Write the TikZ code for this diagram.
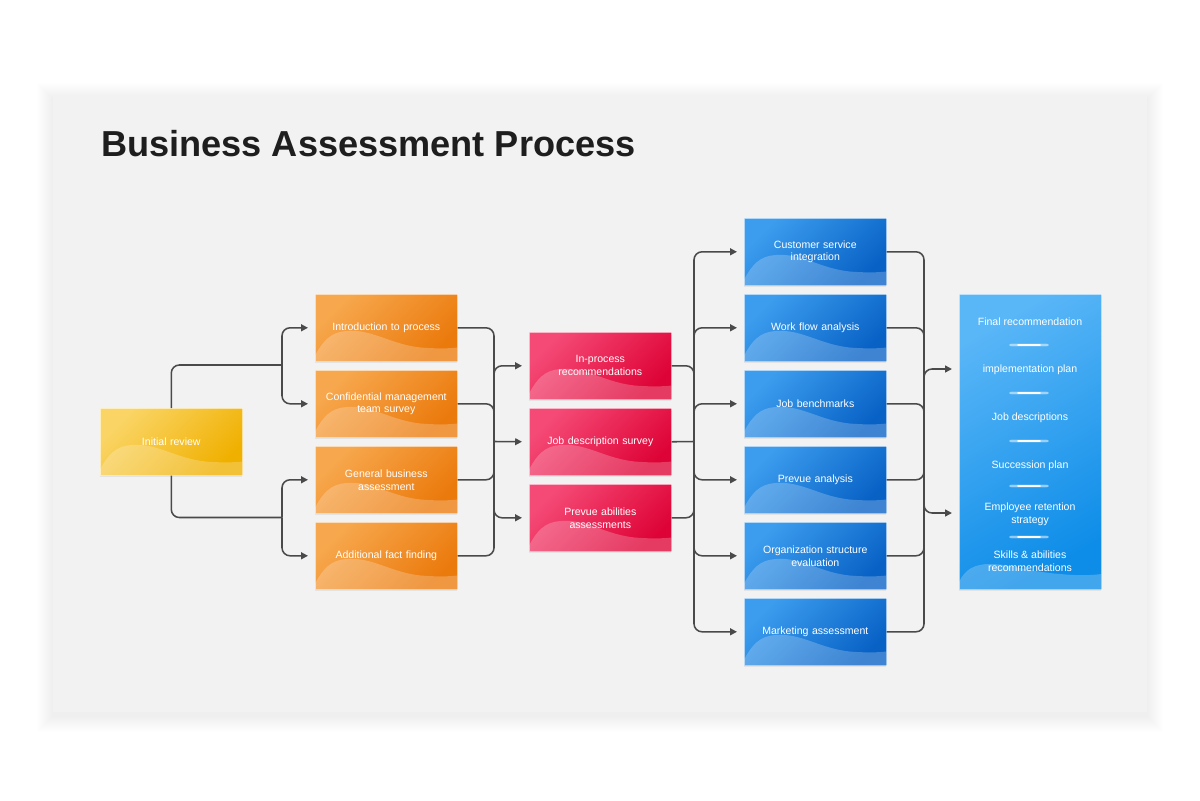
\documentclass[tikz,border=0pt]{standalone}
\usepackage{fontspec}
\setmainfont{Liberation Sans}
\usetikzlibrary{arrows.meta,shadows}
\definecolor{panel}{HTML}{F2F2F2}
\definecolor{yL}{HTML}{FAD566}\definecolor{yD}{HTML}{F0B000}
\definecolor{oL}{HTML}{F7A84E}\definecolor{oD}{HTML}{EB7A0C}
\definecolor{rL}{HTML}{F54A76}\definecolor{rD}{HTML}{DE0336}
\definecolor{bL}{HTML}{3C9DEE}\definecolor{bD}{HTML}{0862C6}
\definecolor{fL}{HTML}{59B6F7}\definecolor{fD}{HTML}{0E8DE8}
\definecolor{lineC}{HTML}{4A4A4A}
\definecolor{ttl}{HTML}{1E1E1E}
\tikzset{
  bx/.style={minimum width=3.55cm, minimum height=1.675cm, text width=3.3cm,
    align=center, text=white, font=\fontsize{7.5}{9.2}\selectfont,
    draw=white, draw opacity=0.6, line width=0.4pt, inner sep=0pt, anchor=north west,
    drop shadow={shadow xshift=0pt,shadow yshift=-1.2pt,opacity=0.13}},
  ybox/.style={bx, top color=yL, bottom color=yD, shading angle=45},
  obox/.style={bx, top color=oL, bottom color=oD, shading angle=45},
  rbox/.style={bx, top color=rL, bottom color=rD, shading angle=45},
  bbox/.style={bx, top color=bL, bottom color=bD, shading angle=45},
  fbox/.style={bx, minimum height=7.375cm, top color=fL, bottom color=fD, shading angle=30},
  ftext/.style={text=white, font=\fontsize{7.5}{9.2}\selectfont, align=center, inner sep=0pt},
  conn/.style={draw=lineC, line width=1.1pt, rounded corners=0.2cm},
  arr/.style={conn, -{Triangle[length=4.8pt,width=4.8pt]}, shorten >=5pt},
  wavefill/.style={fill=white, fill opacity=0.22},
  sep/.style={white, line width=1.1pt, line cap=round}
}
\newcommand\wavebox[3]{% left, top, height
  \fill[wavefill] (#1,#2+#3) -- (#1,#2+0.92*#3)
    .. controls (#1+0.08*142,#2+0.6*#3) and (#1+0.15*142,#2+0.55*#3) .. (#1+0.26*142,#2+0.55*#3)
    .. controls (#1+0.42*142,#2+0.55*#3) and (#1+0.55*142,#2+0.76*#3) .. (#1+0.75*142,#2+0.8*#3)
    .. controls (#1+0.88*142,#2+0.82*#3) and (#1+0.95*142,#2+0.81*#3) .. (#1+142,#2+0.8*#3)
    -- (#1+142,#2+#3) -- cycle;}
\newcommand\mkbox[5]{% name, style, left, top, text
  \node[#2] (#1) at (#3,#4) {#5};
  \wavebox{#3}{#4}{67}}
\begin{document}
\begin{tikzpicture}[x=0.025cm,y=-0.025cm]
\useasboundingbox (0,0) rectangle (1200,800);
\fill[white] (0,0) rectangle (1200,800);
% panel shadow (soft)
\foreach \i in {1,...,16}
  \fill[black, opacity=0.0035] (53-\i,95-\i+4) rectangle (1147+\i,712+\i+4);
\fill[panel] (53,95) rectangle (1147,712);
% title
\node[anchor=base west, inner sep=0pt, text=ttl, font=\fontsize{25.7}{30}\selectfont\bfseries] (title) at (101,157) {Business Assessment Process};
% boxes
\mkbox{ir}{ybox}{100}{408}{Initial review}
\mkbox{intro}{obox}{315}{294}{Introduction to process}
\mkbox{conf}{obox}{315}{370}{Confidential management\\team survey}
\mkbox{gen}{obox}{315}{446}{General business\\assessment}
\mkbox{add}{obox}{315}{522}{Additional fact finding}
\mkbox{inproc}{rbox}{529}{332}{In-process\\recommendations}
\mkbox{jobdesc}{rbox}{529}{408}{Job description survey}
\mkbox{prevab}{rbox}{529}{484}{Prevue abilities\\assessments}
\mkbox{cust}{bbox}{744}{218}{Customer service\\integration}
\mkbox{work}{bbox}{744}{294}{Work flow analysis}
\mkbox{bench}{bbox}{744}{370}{Job benchmarks}
\mkbox{prevan}{bbox}{744}{446}{Prevue analysis}
\mkbox{org}{bbox}{744}{522}{Organization structure\\evaluation}
\mkbox{mkt}{bbox}{744}{598}{Marketing assessment}
% final box
\node[fbox] (fin) at (959,294) {};
\fill[wavefill] (959,589) -- (959,582) .. controls (965,569) and (975,564) .. (990,564)
  .. controls (1010,564) and (1030,572) .. (1060,574) .. controls (1080,576) and (1095,575) .. (1101,574) -- (1101,589) -- cycle;
\node[ftext] (f1) at (1030,321.5) {Final recommendation};
\node[ftext] (f2) at (1030,369.5) {implementation plan};
\node[ftext] (f3) at (1030,417.5) {Job descriptions};
\node[ftext] (f4) at (1030,465.5) {Succession plan};
\node[ftext] (f5) at (1030,514) {Employee retention\\strategy};
\node[ftext] (f6) at (1030,561.5) {Skills \& abilities\\recommendations};
\foreach \y in {345,393,441,486,537}{
  \draw[sep, line width=3pt, opacity=0.12] (1012,\y) -- (1046,\y);
  \draw[sep, opacity=0.45] (1010,\y) -- (1048,\y);
  \draw[sep] (1018,\y) -- (1040,\y);
}
% junctions
\coordinate (j1) at (282,365);
\coordinate (j2) at (282,517.5);
\coordinate (j3) at (494,441.5);
\coordinate (j4) at (694,441.5);
\coordinate (j5) at (924,441.5);
\coordinate (t1) at (959,369);
\coordinate (t2) at (959,513);
% initial -> orange
\draw[conn] (ir.north) |- (j1);
\draw[conn] (ir.south) |- (j2);
\draw[arr] (j1) |- (intro.west);
\draw[arr] (j1) |- (conf.west);
\draw[arr] (j2) |- (gen.west);
\draw[arr] (j2) |- (add.west);
% orange -> red
\draw[conn] (intro.east) -| (j3);
\draw[conn] (conf.east) -| (j3);
\draw[conn] (gen.east) -| (j3);
\draw[conn] (add.east) -| (j3);
\draw[arr] (j3) |- (inproc.west);
\draw[arr] (j3) -- (jobdesc.west);
\draw[arr] (j3) |- (prevab.west);
% red -> blue
\draw[conn] (inproc.east) -| (j4);
\draw[conn] (jobdesc.east) -- (j4);
\draw[conn] (prevab.east) -| (j4);
\draw[arr] (j4) |- (cust.west);
\draw[arr] (j4) |- (work.west);
\draw[arr] (j4) |- (bench.west);
\draw[arr] (j4) |- (prevan.west);
\draw[arr] (j4) |- (org.west);
\draw[arr] (j4) |- (mkt.west);
% blue -> final
\draw[conn] (cust.east) -| (j5);
\draw[conn] (work.east) -| (j5);
\draw[conn] (bench.east) -| (j5);
\draw[conn] (prevan.east) -| (j5);
\draw[conn] (org.east) -| (j5);
\draw[conn] (mkt.east) -| (j5);
\draw[arr] (j5) |- (t1);
\draw[arr] (j5) |- (t2);
\end{tikzpicture}
\end{document}
